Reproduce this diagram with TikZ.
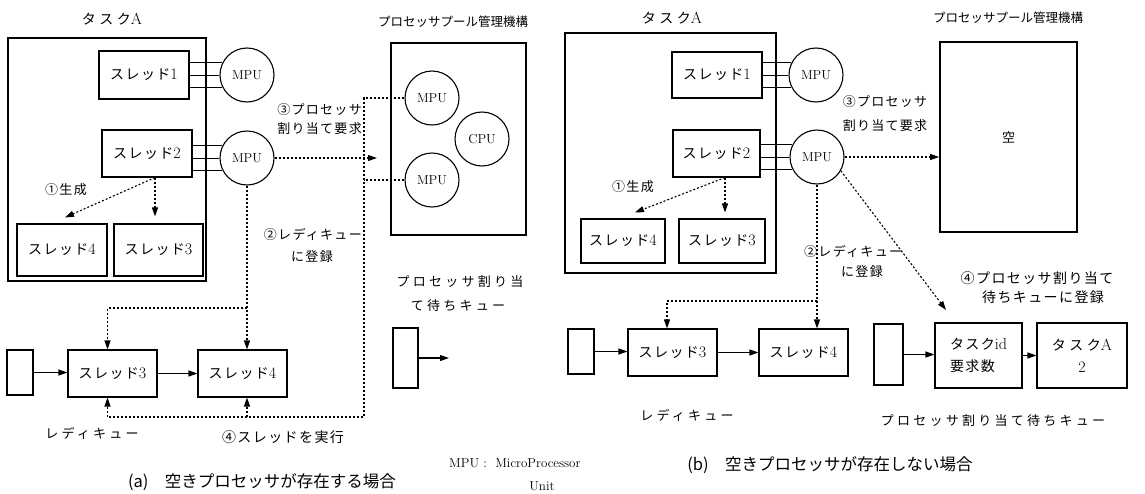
\documentclass[tikz,border=0pt]{standalone}
\usepackage{fontspec}
\newfontfamily\jp{Noto Sans CJK JP}
\newfontfamily\jps[LetterSpace=10]{Noto Sans CJK JP}
\newfontfamily\jpw[LetterSpace=25]{Noto Sans CJK JP}
\newcommand{\lm}[1]{{\rmfamily\fontsize{16}{16}\selectfont #1}}
\usetikzlibrary{arrows.meta}
\begin{document}
\begin{tikzpicture}[x=1pt,y=-1pt,
  box/.style={draw,line width=1.1pt,inner sep=0pt,font=\jps\fontsize{14}{20}\selectfont},
  heavy/.style={draw,line width=1.8pt,inner sep=0pt},
  mpu/.style={draw,circle,line width=1.1pt,minimum size=54pt,inner sep=0pt,font=\fontsize{13}{14}\selectfont},
  dots/.style={dash pattern=on 2pt off 2pt,line width=1.1pt},
  arr/.style={-{Triangle[length=9pt,width=6pt]}},
  solid arr/.style={arr,line width=1.1pt},
  wire/.style={line width=1pt},
  lbl/.style={inner sep=0pt,font=\jps\fontsize{13}{15}\selectfont},
  wlbl/.style={inner sep=0pt,font=\jpw\fontsize{13}{15}\selectfont},
  captext/.style={inner sep=0pt,font=\jp\fontsize{16.5}{18}\selectfont},
  latin/.style={inner sep=0pt,font=\fontsize{13}{15}\selectfont},
]
\useasboundingbox (0,0) rectangle (1145,493);

% ================= panel (a) =================
\node[wlbl,font=\jpw\fontsize{14}{16}\selectfont] (taskAl) at (112,19) {タスク\lm{A}};
\node[heavy,minimum width=198pt,minimum height=243pt] (taskA) at (107,159.5) {};
\node[box,minimum width=90pt,minimum height=48pt] (t1a) at (144,75) {スレッド\lm{1}};
\node[box,minimum width=90pt,minimum height=47pt] (t2a) at (147,153.5) {スレッド\lm{2}};
\node[box,minimum width=90pt,minimum height=52pt] (t4a) at (62,250) {スレッド\lm{4}};
\node[box,minimum width=89pt,minimum height=52pt] (t3a) at (158.5,250) {スレッド\lm{3}};
\node[mpu] (m1a) at (247,75) {MPU};
\node[mpu] (m2a) at (247,158) {MPU};
\foreach \a in {153.6,180,206.4} {
  \draw[wire] (t1a.east |- m1a.\a) -- (m1a.\a);
  \draw[wire] (t2a.east |- m2a.\a) -- (m2a.\a);
}
\draw[dots,arr] ([xshift=8pt]t2a.south) -- ([xshift=3pt,yshift=6pt]t4a.north);
\draw[dots,arr] ([xshift=8pt]t2a.south) -- ([xshift=-3.5pt,yshift=7pt]t3a.north);
\node[lbl] (gena) at (66,190) {①生成};

\node[lbl,font=\jp\fontsize{12.5}{14}\selectfont] (poolAl) at (453,22) {プロセッサプール管理機構};
\node[heavy,minimum width=135pt,minimum height=192pt] (poolA) at (458.5,139) {};
\node[mpu] (p1a) at (432,98) {MPU};
\node[mpu] (cpuA) at (482,139) {CPU};
\node[mpu] (p2a) at (432,180) {MPU};

\node[box,minimum width=26pt,minimum height=45pt] (q0a) at (20,372.5) {};
\node[box,minimum width=89pt,minimum height=47pt] (rt3a) at (112.5,373.5) {スレッド\lm{3}};
\node[box,minimum width=89pt,minimum height=47pt] (rt4a) at (242.5,373.5) {スレッド\lm{4}};
\draw[solid arr] (q0a.east) -- (q0a.east -| rt3a.west);
\draw[solid arr] (rt3a.east) -- (rt4a.west);

\coordinate (busAb) at (364,417);
\coordinate (brA) at (107.5,308);
\coordinate (reqA) at (377,158);
\draw[dots,arr] (m2a.east) -- (reqA);
\draw[dots,arr] (p1a.west) -| (busAb) -| ([xshift=-5pt]rt3a.south);
\draw[dots] (p2a.west) -- (p2a.west -| busAb);
\draw[dots,arr] (m2a.south |- busAb) -- (m2a.south |- rt4a.south);
\draw[dots,arr] (m2a.south) -- (m2a.south |- rt4a.north);
\draw[dots,arr] (m2a.south |- brA) -| ([xshift=-5pt]rt3a.north);

\node[box,minimum width=25pt,minimum height=60pt] (pqa) at (405.5,358) {};
\coordinate (pqaE) at (449,358);
\draw[solid arr] (pqa.east) -- (pqaE);

\node[lbl,anchor=east] (req1a) at (362,110) {③プロセッサ};
\node[lbl,anchor=east] (req2a) at (362,129) {割り当て要求};
\node[lbl,anchor=east] (reg1a) at (362,235) {②レディキュー};
\node[lbl] (reg2a) at (312,257) {に登録};
\node[wlbl] (pw1a) at (460,282) {プロセッサ割り当};
\node[wlbl] (pw2a) at (458,306) {て待ちキュー};
\node[wlbl] (rqa) at (92,433) {レディキュー};
\node[lbl,font=\jps\fontsize{14}{16}\selectfont] (exa) at (283,437) {④スレッドを実行};
\node[captext] (capa) at (262,482) {(a)\quad 空きプロセッサが存在する場合};
\node[latin,anchor=west] (mpudef) at (449,463) {MPU :\ \ MicroProcessor};
\node[latin] (unit) at (542,486) {Unit};

% ================= panel (b) =================
\node[wlbl,font=\jpw\fontsize{14}{16}\selectfont] (taskBl) at (672,18) {タスク\lm{A}};
\node[heavy,minimum width=211pt,minimum height=240pt] (taskB) at (670.5,153) {};
\node[box,minimum width=90pt,minimum height=46pt] (t1b) at (717,75) {スレッド\lm{1}};
\node[box,minimum width=87pt,minimum height=47pt] (t2b) at (716.5,153.5) {スレッド\lm{2}};
\node[box,minimum width=84pt,minimum height=44pt] (t4b) at (623,241) {スレッド\lm{4}};
\node[box,minimum width=86pt,minimum height=44pt] (t3b) at (722,241) {スレッド\lm{3}};
\node[mpu] (m1b) at (816,75) {MPU};
\node[mpu] (m2b) at (817,157) {MPU};
\foreach \a in {153.6,180,206.4} {
  \draw[wire] (t1b.east |- m1b.\a) -- (m1b.\a);
  \draw[wire] (t2b.east |- m2b.\a) -- (m2b.\a);
}
\draw[dots,arr] ([xshift=8.5pt]t2b.south) -- ([xshift=12pt,yshift=6pt]t4b.north);
\draw[dots,arr] ([xshift=8.5pt]t2b.south) -- ([xshift=3pt,yshift=6pt]t3b.north);
\node[lbl] (genb) at (633,187) {①生成};

\node[lbl,font=\jp\fontsize{12.5}{14}\selectfont] (poolBl) at (1008,18) {プロセッサプール管理機構};
\node[heavy,minimum width=137pt,minimum height=190pt,font=\jp\fontsize{13}{15}\selectfont] (poolB) at (1008.5,137) {空};
\draw[dots,arr] (m2b.east) -- (m2b.east -| poolB.west);
\coordinate (d4b) at (946,310);
\draw[dots,arr] (m2b.-30) -- (d4b);

\node[lbl] (req1b) at (885,102) {③プロセッサ};
\node[lbl] (req2b) at (885,126) {割り当て要求};
\node[lbl,anchor=west] (reg1b) at (804,252) {②レディキュー};
\node[lbl] (reg2b) at (862,272) {に登録};
\node[lbl,font=\jps\fontsize{14}{16}\selectfont] (w1b) at (1037,278) {④プロセッサ割り当て};
\node[lbl,font=\jps\fontsize{14}{16}\selectfont] (w2b) at (1043,297) {待ちキューに登録};

\node[box,minimum width=26pt,minimum height=45pt] (q0b) at (581,351.5) {};
\node[box,minimum width=89pt,minimum height=47pt] (rt3b) at (672.5,352.5) {スレッド\lm{3}};
\node[box,minimum width=89pt,minimum height=47pt] (rt4b) at (803.5,352.5) {スレッド\lm{4}};
\draw[solid arr] (q0b.east) -- (q0b.east -| rt3b.west);
\draw[solid arr] (rt3b.east) -- (rt4b.west);
\coordinate (brB) at (667,301);
\draw[dots,arr] (m2b.south) -- (m2b.south |- rt4b.north);
\draw[dots,arr] (m2b.south |- brB) -| ([xshift=-5.5pt]rt3b.north);
\node[wlbl] (rqb) at (687,415) {レディキュー};

\node[box,minimum width=29pt,minimum height=61pt] (pqb) at (888.5,354.5) {};
\node[box,minimum width=87pt,minimum height=65pt,align=left,font=\jps\fontsize{14}{22}\selectfont] (tid) at (978.5,355.5) {タスク\lm{id}\\ 要求数};
\node[box,minimum width=90pt,minimum height=65pt,align=center,font=\jpw\fontsize{14}{22}\selectfont] (taa) at (1082,355.5) {タスク\lm{A}\\ \lm{2}};
\draw[solid arr] (pqb.east) -- (pqb.east -| tid.west);
\draw[solid arr] (tid.east) -- (taa.west);
\node[wlbl] (pwb) at (993,421) {プロセッサ割り当て待ちキュー};
\node[captext] (capb) at (830,465) {(b)\quad 空きプロセッサが存在しない場合};
\end{tikzpicture}
\end{document}
